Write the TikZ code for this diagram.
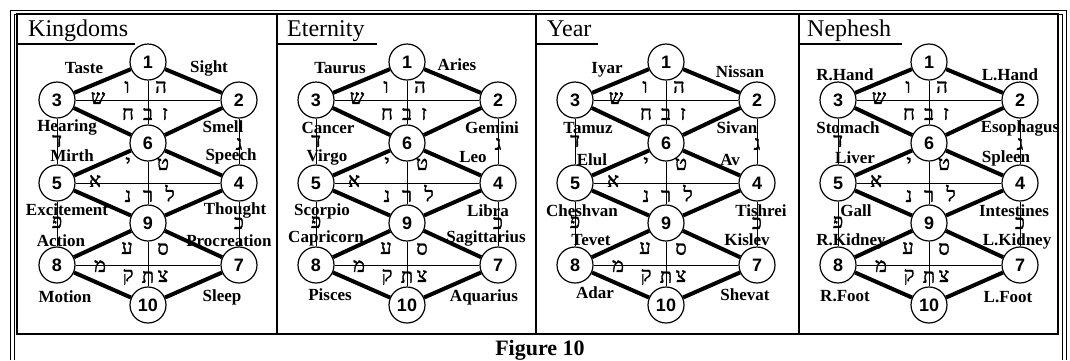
\documentclass[tikz,border=0pt]{standalone}
\usepackage{fontspec}
\setmainfont{Liberation Serif}
\newfontfamily\numfont{Liberation Sans}
\newfontfamily\hebfont[Script=Hebrew,FakeBold=1.6]{Liberation Serif}
\begin{document}
\begin{tikzpicture}[x=1pt,y=-1pt,
	sefira/.style={circle,draw,line width=1.2pt,minimum size=36pt,inner sep=0pt,
		font=\numfont\bfseries\fontsize{18}{18}\selectfont},
	thickpath/.style={line width=4pt},
	thinpath/.style={line width=0.9pt},
	lbl/.style={font=\bfseries\fontsize{17}{17}\selectfont,inner sep=0pt},
	heb/.style={font=\hebfont\fontsize{20}{20}\selectfont,inner sep=0pt},
	ttl/.style={font=\fontsize{24}{24}\selectfont,anchor=base west,inner sep=0pt}]
	\useasboundingbox (0,0) rectangle (1070,360);
	% frame
	\draw[line width=1pt] (10,360) -- (10,10) -- (1066,10) -- (1066,360);
	\draw[line width=0.7pt] (14,360) -- (14,14) -- (1062,14) -- (1062,360);
	\draw[line width=1.3pt] (17,14) rectangle (1058,334);
	\draw[line width=1.3pt] (277,14) -- (277,334);
	\draw[line width=1.3pt] (536,14) -- (536,334);
	\draw[line width=1.3pt] (799,14) -- (799,334);
	% titles
	\node[ttl] (kingdoms) at (28,36) {Kingdoms};
	\node[ttl] (eternity) at (287,36) {Eternity};
	\node[ttl] (year) at (547,36) {Year};
	\node[ttl] (nephesh) at (807,36) {Nephesh};
	\draw[line width=1.3pt] (17,44) -- (135,44);
	\draw[line width=1.3pt] (277,44) -- (377,44);
	\draw[line width=1.3pt] (536,44) -- (598,44);
	\draw[line width=1.3pt] (799,44) -- (902,44);
	% the four trees
	\foreach \p/\cx in {a/148, b/407, c/666, d/929} {
		\begin{scope}[xshift=\cx]
			\node[sefira] (\p1) at (0,62) {1};
			\node[sefira] (\p2) at (91,100) {2};
			\node[sefira] (\p3) at (-91,100) {3};
			\node[sefira] (\p6) at (0,143) {6};
			\node[sefira] (\p4) at (91,183) {4};
			\node[sefira] (\p5) at (-91,183) {5};
			\node[sefira] (\p9) at (0,223) {9};
			\node[sefira] (\p7) at (91,265) {7};
			\node[sefira] (\p8) at (-91,265) {8};
			\node[sefira] (\p10) at (0,305) {10};
			\draw[thinpath] (\p1) -- (\p6);
			\draw[thinpath] (\p6) -- (\p9);
			\draw[thinpath] (\p9) -- (\p10);
			\draw[thinpath] (\p3) -- (\p5);
			\draw[thinpath] (\p5) -- (\p8);
			\draw[thinpath] (\p2) -- (\p4);
			\draw[thinpath] (\p4) -- (\p7);
			\draw[thinpath] (\p3) -- (\p2);
			\draw[thinpath] (\p5) -- (\p4);
			\draw[thinpath] (\p8) -- (\p7);
			\draw[thickpath] (\p1) -- (\p3);
			\draw[thickpath] (\p1) -- (\p2);
			\draw[thickpath] (\p3) -- (\p6);
			\draw[thickpath] (\p2) -- (\p6);
			\draw[thickpath] (\p6) -- (\p5);
			\draw[thickpath] (\p6) -- (\p4);
			\draw[thickpath] (\p5) -- (\p9);
			\draw[thickpath] (\p4) -- (\p9);
			\draw[thickpath] (\p9) -- (\p8);
			\draw[thickpath] (\p9) -- (\p7);
			\draw[thickpath] (\p8) -- (\p10);
			\draw[thickpath] (\p7) -- (\p10);
			% letters
			\node[heb] (\p-vav) at (-21,87) {ו};
			\node[heb] (\p-he) at (13,87) {ה};
			\node[heb] (\p-shin) at (-50,98) {ש};
			\node[heb] (\p-het) at (-20,114) {ח};
			\node[heb] (\p-bet) at (0,114) {ב};
			\node[heb] (\p-zayin) at (17,114) {ז};
			\node[heb] (\p-dalet) at (-91,141) {ד};
			\node[heb] (\p-gimel) at (91,144) {ג};
			\node[heb] (\p-yod) at (-20,163) {י};
			\node[heb] (\p-tet) at (15,164) {ט};
			\node[heb] (\p-alef) at (-53,181) {א};
			\node[heb] (\p-nun) at (-20,196) {נ};
			\node[heb] (\p-resh) at (0,196) {ר};
			\node[heb] (\p-lamed) at (22,193) {ל};
			\node[heb] (\p-pe) at (-91,222) {פ};
			\node[heb] (\p-kaf) at (91,223) {כ};
			\node[heb] (\p-ayin) at (-21,248) {ע};
			\node[heb] (\p-samekh) at (15,249) {ס};
			\node[heb] (\p-mem) at (-48,266) {מ};
			\node[heb] (\p-qof) at (-20,277) {ק};
			\node[heb] (\p-tav) at (0,277) {ת};
			\node[heb] (\p-tsadi) at (15,276) {צ};
		\end{scope}
	}
	% labels
	\foreach \x/\y/\t [count=\i] in {84/68/Taste, 209/68/Sight, 67/127/Hearing,
		223/127/Smell, 72/156/Mirth, 231/156/Speech, 67/210/Excitement,
		235/210/Thought, 61/241/Action, 229/241/Procreation, 65/297/Motion,
		222/297/Sleep}
		\node[lbl] (kin\i) at (\x,\y) {\t};
	\foreach \x/\y/\t [count=\i] in {340/68/Taurus, 457/65/Aries, 328/128/Cancer,
		492/128/Gemini, 327/157/Virgo, 473/157/Leo, 322/211/Scorpio,
		488/211/Libra, 326/238/Capricorn, 486/238/Sagittarius, 330/295/Pisces,
		484/297/Aquarius}
		\node[lbl] (ete\i) at (\x,\y) {\t};
	\foreach \x/\y/\t [count=\i] in {607/70/Iyar, 740/72/Nissan, 588/128/Tamuz,
		737/128/Sivan, 592/160/Elul, 730/160/Av, 582/211/Cheshvan,
		761/211/Tishrei, 591/240/Tevet, 747/240/Kislev, 595/293/Adar,
		745/295/Shevat}
		\node[lbl] (yea\i) at (\x,\y) {\t};
	\foreach \x/\y/\t [count=\i] in {845/75/R.Hand, 1010/75/L.Hand, 848/128/Stomach,
		1020/128/Esophagus, 855/158/Liver, 1006/158/Spleen, 856/211/Gall,
		1014/211/Intestines, 851/241/R.Kidney, 1017/241/L.Kidney, 845/296/R.Foot,
		1008/297/L.Foot}
		\node[lbl] (nep\i) at (\x,\y) {\t};
	% caption
	\node[font=\bfseries\fontsize{22}{22}\selectfont] (caption) at (540,350) {Figure 10};
\end{tikzpicture}
\end{document}
